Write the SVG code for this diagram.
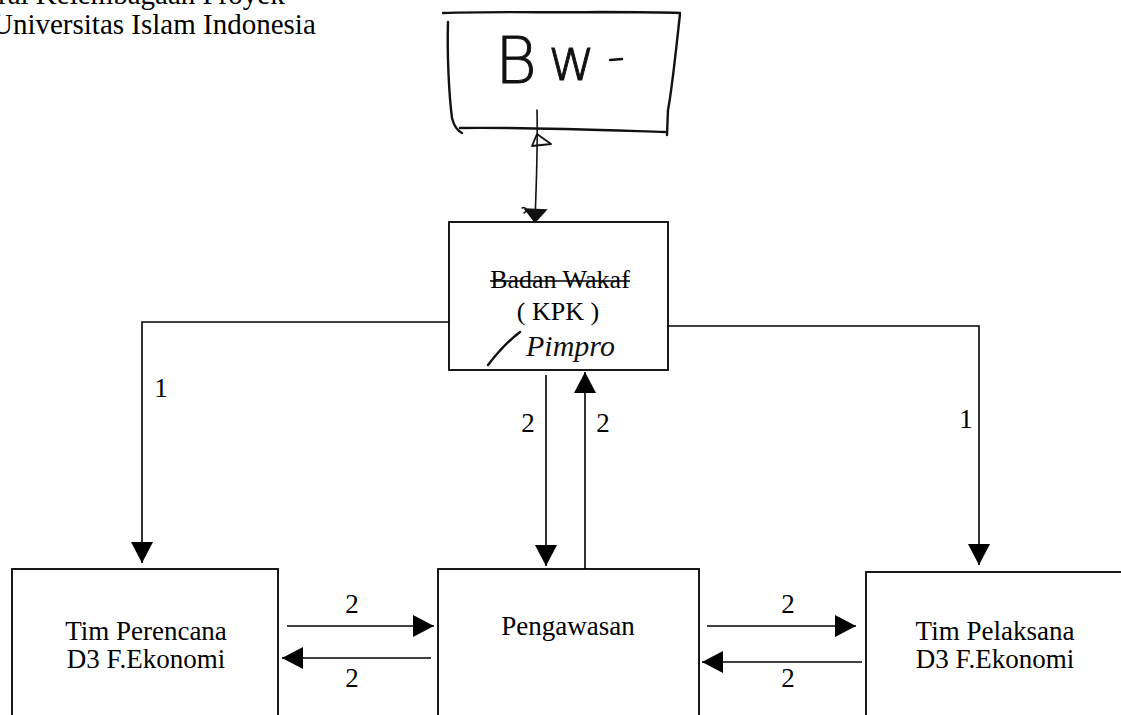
<svg xmlns="http://www.w3.org/2000/svg" width="1121" height="715" viewBox="0 0 1121 715">
  <style>
    .box { fill: #fff; stroke: #000; stroke-width: 1.8; }
    .lbl { font-family: "Liberation Serif", "Times New Roman", serif; font-size: 27px; fill: #000; }
    .num { font-family: "Liberation Serif", "Times New Roman", serif; font-size: 27px; fill: #000; text-anchor: middle; }
    .con { fill: none; stroke: #000; stroke-width: 1.6; }
    .ink { fill: none; stroke: #111; stroke-width: 2.4; stroke-linecap: round; stroke-linejoin: round; }
    .hand { font-family: "DejaVu Sans", "Liberation Sans", sans-serif; font-weight: 300; fill: #111; stroke: #111; stroke-width: 0.9; }
  </style>
  <defs>
    <marker id="head" markerUnits="userSpaceOnUse" markerWidth="22" markerHeight="22" refX="21" refY="11" orient="auto">
      <path d="M0,0 L21,11 L0,22 Z" fill="#000"/>
    </marker>
  </defs>
  <rect width="1121" height="715" fill="#fff"/>

  <!-- page header (top line cut by the page edge) -->
  <g id="header">
    <text class="lbl" x="-2" y="4" style="font-size:29px">ral Kelembagaan Proyek</text>
    <text class="lbl" x="-8" y="34" style="font-size:29px">Universitas Islam Indonesia</text>
  </g>

  <!-- hand-drawn BW box -->
  <g id="bw">
    <path class="ink" d="M443,13 C500,11 560,13 600,12 C630,12 660,12 680,13"/>
    <path class="ink" d="M448,22 C447,55 449,95 452,118 C454,126 458,131 462,133"/>
    <path class="ink" d="M460,128 C520,127 600,130 665,132"/>
    <path class="ink" d="M680,14 C676,50 672,90 668,110 L667,135"/>
    <text class="hand" x="495" y="83" style="font-size:64px">B</text>
    <text class="hand" x="548" y="80" style="font-size:58px">w</text>
    <path class="ink" d="M610,60 L622,59"/>
  </g>

  <!-- Badan Wakaf (KPK) -->
  <g id="kpk">
    <rect class="box" x="449" y="222" width="219" height="148"/>
    <text class="lbl" x="560" y="288" text-anchor="middle" style="font-size:26px">Badan Wakaf</text>
    <line x1="490" y1="281" x2="630" y2="281" stroke="#000" stroke-width="1.6"/>
    <text class="lbl" x="558" y="320" text-anchor="middle" style="font-size:26px">( KPK )</text>
    <path class="ink" d="M488,365 C498,352 508,341 520,332"/>
    <text x="526" y="356" style="font-family:'Liberation Serif',serif;font-style:italic;font-size:30px;fill:#111">Pimpro</text>
  </g>

  <g id="perencana">
    <rect class="box" x="12" y="569" width="266" height="160"/>
    <text class="lbl" x="146" y="640" text-anchor="middle">Tim Perencana</text>
    <text class="lbl" x="146" y="668" text-anchor="middle">D3 F.Ekonomi</text>
  </g>

  <g id="pengawasan">
    <rect class="box" x="438" y="569" width="261" height="160"/>
    <text class="lbl" x="568" y="635" text-anchor="middle">Pengawasan</text>
  </g>

  <g id="pelaksana">
    <rect class="box" x="866" y="572" width="270" height="160"/>
    <text class="lbl" x="995" y="640" text-anchor="middle">Tim Pelaksana</text>
    <text class="lbl" x="995" y="668" text-anchor="middle">D3 F.Ekonomi</text>
  </g>

  <g id="connectors">
    <!-- BW to KPK, hand drawn -->
    <path class="ink" d="M537,110 C538,150 536,190 535,221" style="stroke-width:1.6"/>
    <path class="ink" d="M537,134 L532,146 L551,144 Z" style="stroke-width:1.8"/>
    <path d="M525,209 L546,210 L535,222 Z" fill="#111" stroke="#111" stroke-width="1.5"/>
    <path class="ink" d="M522,208 C526,206 528,211 524,213" style="stroke-width:1.4"/>

    <!-- KPK to the two teams -->
    <path class="con" d="M449,322 L142,322 L142,563" marker-end="url(#head)"/>
    <path class="con" d="M668,326 L979,326 L979,565" marker-end="url(#head)"/>
    <text class="num" x="161" y="397">1</text>
    <text class="num" x="966" y="428">1</text>

    <!-- KPK and Pengawasan -->
    <path class="con" d="M546,375 L546,566" marker-end="url(#head)"/>
    <path class="con" d="M585,569 L585,372" marker-end="url(#head)"/>
    <text class="num" x="528" y="432">2</text>
    <text class="num" x="603" y="432">2</text>

    <!-- Perencana and Pengawasan -->
    <path class="con" d="M287,626 L434,626" marker-end="url(#head)"/>
    <path class="con" d="M431,658 L282,658" marker-end="url(#head)"/>
    <text class="num" x="352" y="613">2</text>
    <text class="num" x="352" y="687">2</text>

    <!-- Pengawasan and Pelaksana -->
    <path class="con" d="M707,626 L856,626" marker-end="url(#head)"/>
    <path class="con" d="M862,662 L702,662" marker-end="url(#head)"/>
    <text class="num" x="788" y="613">2</text>
    <text class="num" x="788" y="687">2</text>
  </g>
</svg>
